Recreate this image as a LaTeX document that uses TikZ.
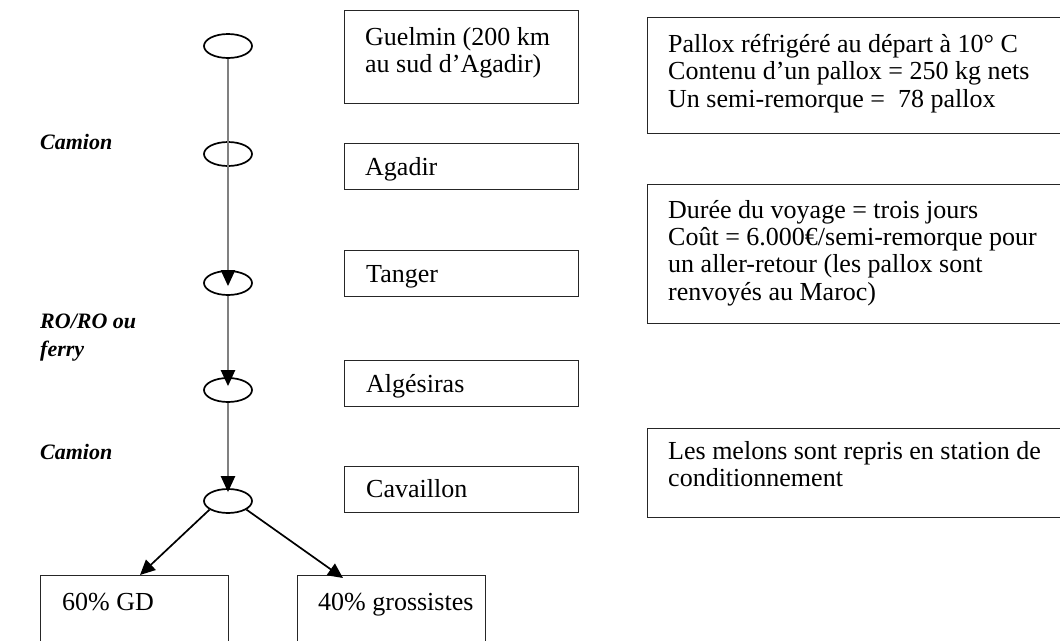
\documentclass[tikz,border=0pt]{standalone}
\usepackage{fontspec}
\setmainfont{Liberation Serif}
\usetikzlibrary{arrows.meta,shapes.geometric,calc}
\begin{document}
\begin{tikzpicture}[x=1pt,y=-1pt,
  boxfont/.style={font=\fontsize{26}{27.3}\selectfont},
  frame/.style={draw=black!85, line width=1.4pt, inner sep=0pt, anchor=north west},
  txt/.style={boxfont, anchor=north west, inner sep=0pt, align=left},
  lab/.style={font=\fontsize{22}{28}\selectfont\bfseries\itshape, anchor=north west, inner sep=0pt, align=left},
  stop/.style={ellipse, draw=black, line width=1.7pt, minimum width=48pt, minimum height=24pt, inner sep=0pt},
  flow/.style={draw=black!50, line width=2.3pt, -{Triangle[length=16pt,width=14pt,color=black]}},
  split/.style={draw=black, line width=1.7pt, -{Triangle[length=15pt,width=14pt]}}
]
\useasboundingbox (0,0) rectangle (1060,640);
\clip (0,0) rectangle (1060,640);
\fill[white] (0,0) rectangle (1060,640);

% ellipses
\node[stop] (e1) at (228,46) {};
\node[stop] (e2) at (228,154) {};
\node[stop] (e3) at (228,283) {};
\node[stop] (e4) at (228,390) {};
\node[stop] (e5) at (228,501) {};

% middle boxes
\node[frame, minimum width=234pt, minimum height=93pt] (bguel) at (344,10) {};
\node[txt] (tguel) at (365,27) {Guelmin (200 km\\au sud d’Agadir)};
\node[frame, minimum width=234pt, minimum height=46pt] (bagad) at (344,143) {};
\node[txt] (tagad) at (365,157) {Agadir};
\node[frame, minimum width=234pt, minimum height=46pt] (btang) at (344,250) {};
\node[txt] (ttang) at (366,265) {Tanger};
\node[frame, minimum width=234pt, minimum height=46pt] (balge) at (344,360) {};
\node[txt] (talge) at (366,374) {Algésiras};
\node[frame, minimum width=234pt, minimum height=46pt] (bcava) at (344,466) {};
\node[txt] (tcava) at (366,479) {Cavaillon};

% right boxes
\node[frame, minimum width=440pt, minimum height=116pt] (bpal) at (647,17) {};
\node[txt] (tpal) at (668,34) {Pallox réfrigéré au départ à 10° C\\Contenu d’un pallox = 250 kg nets\\Un semi-remorque =\ \ 78 pallox};
\node[frame, minimum width=440pt, minimum height=139pt] (bdur) at (647,184) {};
\node[txt] (tdur) at (668,200) {Durée du voyage = trois jours\\Coût = 6.000€/semi-remorque pour\\un aller-retour (les pallox sont\\renvoyés au Maroc)};
\node[frame, minimum width=440pt, minimum height=89pt] (bmel) at (647,428) {};
\node[txt] (tmel) at (668,441) {Les melons sont repris en station de\\conditionnement};

% bottom boxes
\node[frame, minimum width=188pt, minimum height=80pt] (bgd) at (40,575) {};
\node[txt] (tgd) at (62,593) {60\% GD};
\node[frame, minimum width=188pt, minimum height=80pt] (bgro) at (297,575) {};
\node[txt] (tgro) at (318,593) {40\% grossistes};

% left labels
\node[lab] (l1) at (40,134) {Camion};
\node[lab] (l2) at (40,314) {RO/RO ou\\ferry};
\node[lab] (l3) at (40,444) {Camion};

% connectors
\draw[flow, shorten >=-16pt] (e1) -- (e3);
\draw[flow, shorten >=-9pt] (e3) -- (e4);
\draw[flow, shorten >=-4pt] (e4) -- (e5);
\coordinate (gdin) at ($(bgd.north west)+(100pt,0)$);
\coordinate (groin) at ($(bgro.north west)+(46pt,-3pt)$);
\draw[split] (e5.205) -- (gdin);
\draw[split] (e5.335) -- (groin);
\end{tikzpicture}
\end{document}
